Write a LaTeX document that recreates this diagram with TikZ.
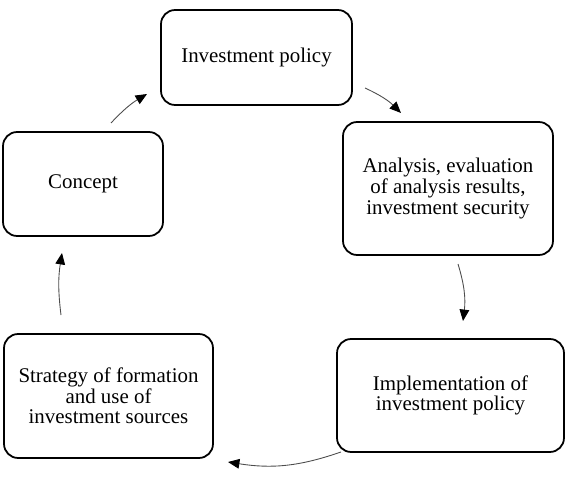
\documentclass[tikz,border=0pt]{standalone}
\usepackage{fontspec}
\setmainfont{Liberation Serif}
\usetikzlibrary{arrows.meta}

\tikzset{
  stage/.style={draw, line width=1pt, rounded corners=8pt, align=center,
    inner sep=0pt, font=\fontsize{11.9}{11.7}\selectfont},
  flow/.style={-{Triangle[length=6.5pt,width=5.5pt,color=black]}, line width=0.5pt, black!70},
}

\begin{document}
\begin{tikzpicture}[x=0.02cm, y=-0.02cm]

\useasboundingbox (0,0) rectangle (565,500);

% Stages
\node[stage, minimum width=3.82cm, minimum height=1.90cm] (policy) at (256.5,57.5)
{Investment policy};

\node[stage, minimum width=4.20cm, minimum height=2.66cm] (analysis) at (448,188.5)
{Analysis, evaluation\\of analysis results,\\investment security};

\node[stage, minimum width=4.54cm, minimum height=2.26cm] (implement) at (450.5,395.5)
{Implementation of\\investment policy};

\node[stage, minimum width=4.18cm, minimum height=2.48cm] (strategy) at (108.5,396)
{Strategy of formation\\and use of\\investment sources};

\node[stage, minimum width=3.20cm, minimum height=2.08cm] (concept) at (83,184)
{Concept};

% Arrow ends
\coordinate (c1) at (111,123);
\coordinate (p1) at (147,94);
\coordinate (p2) at (365,88);
\coordinate (a1) at (401,113);
\coordinate (a2) at (458,264);
\coordinate (i1) at (463,321);
\coordinate (i2) at (341,452);
\coordinate (s1) at (228,462);
\coordinate (s2) at (61,315);
\coordinate (c2) at (62,253);

% Cycle
\draw[flow] (c1) to[bend left=8] (p1);
\draw[flow] (p2) to[bend left=10] (a1);
\draw[flow] (a2) to[bend left=12] (i1);
\draw[flow] (i2) to[bend left=14] (s1);
\draw[flow] (s2) to[bend left=8] (c2);

\end{tikzpicture}
\end{document}
